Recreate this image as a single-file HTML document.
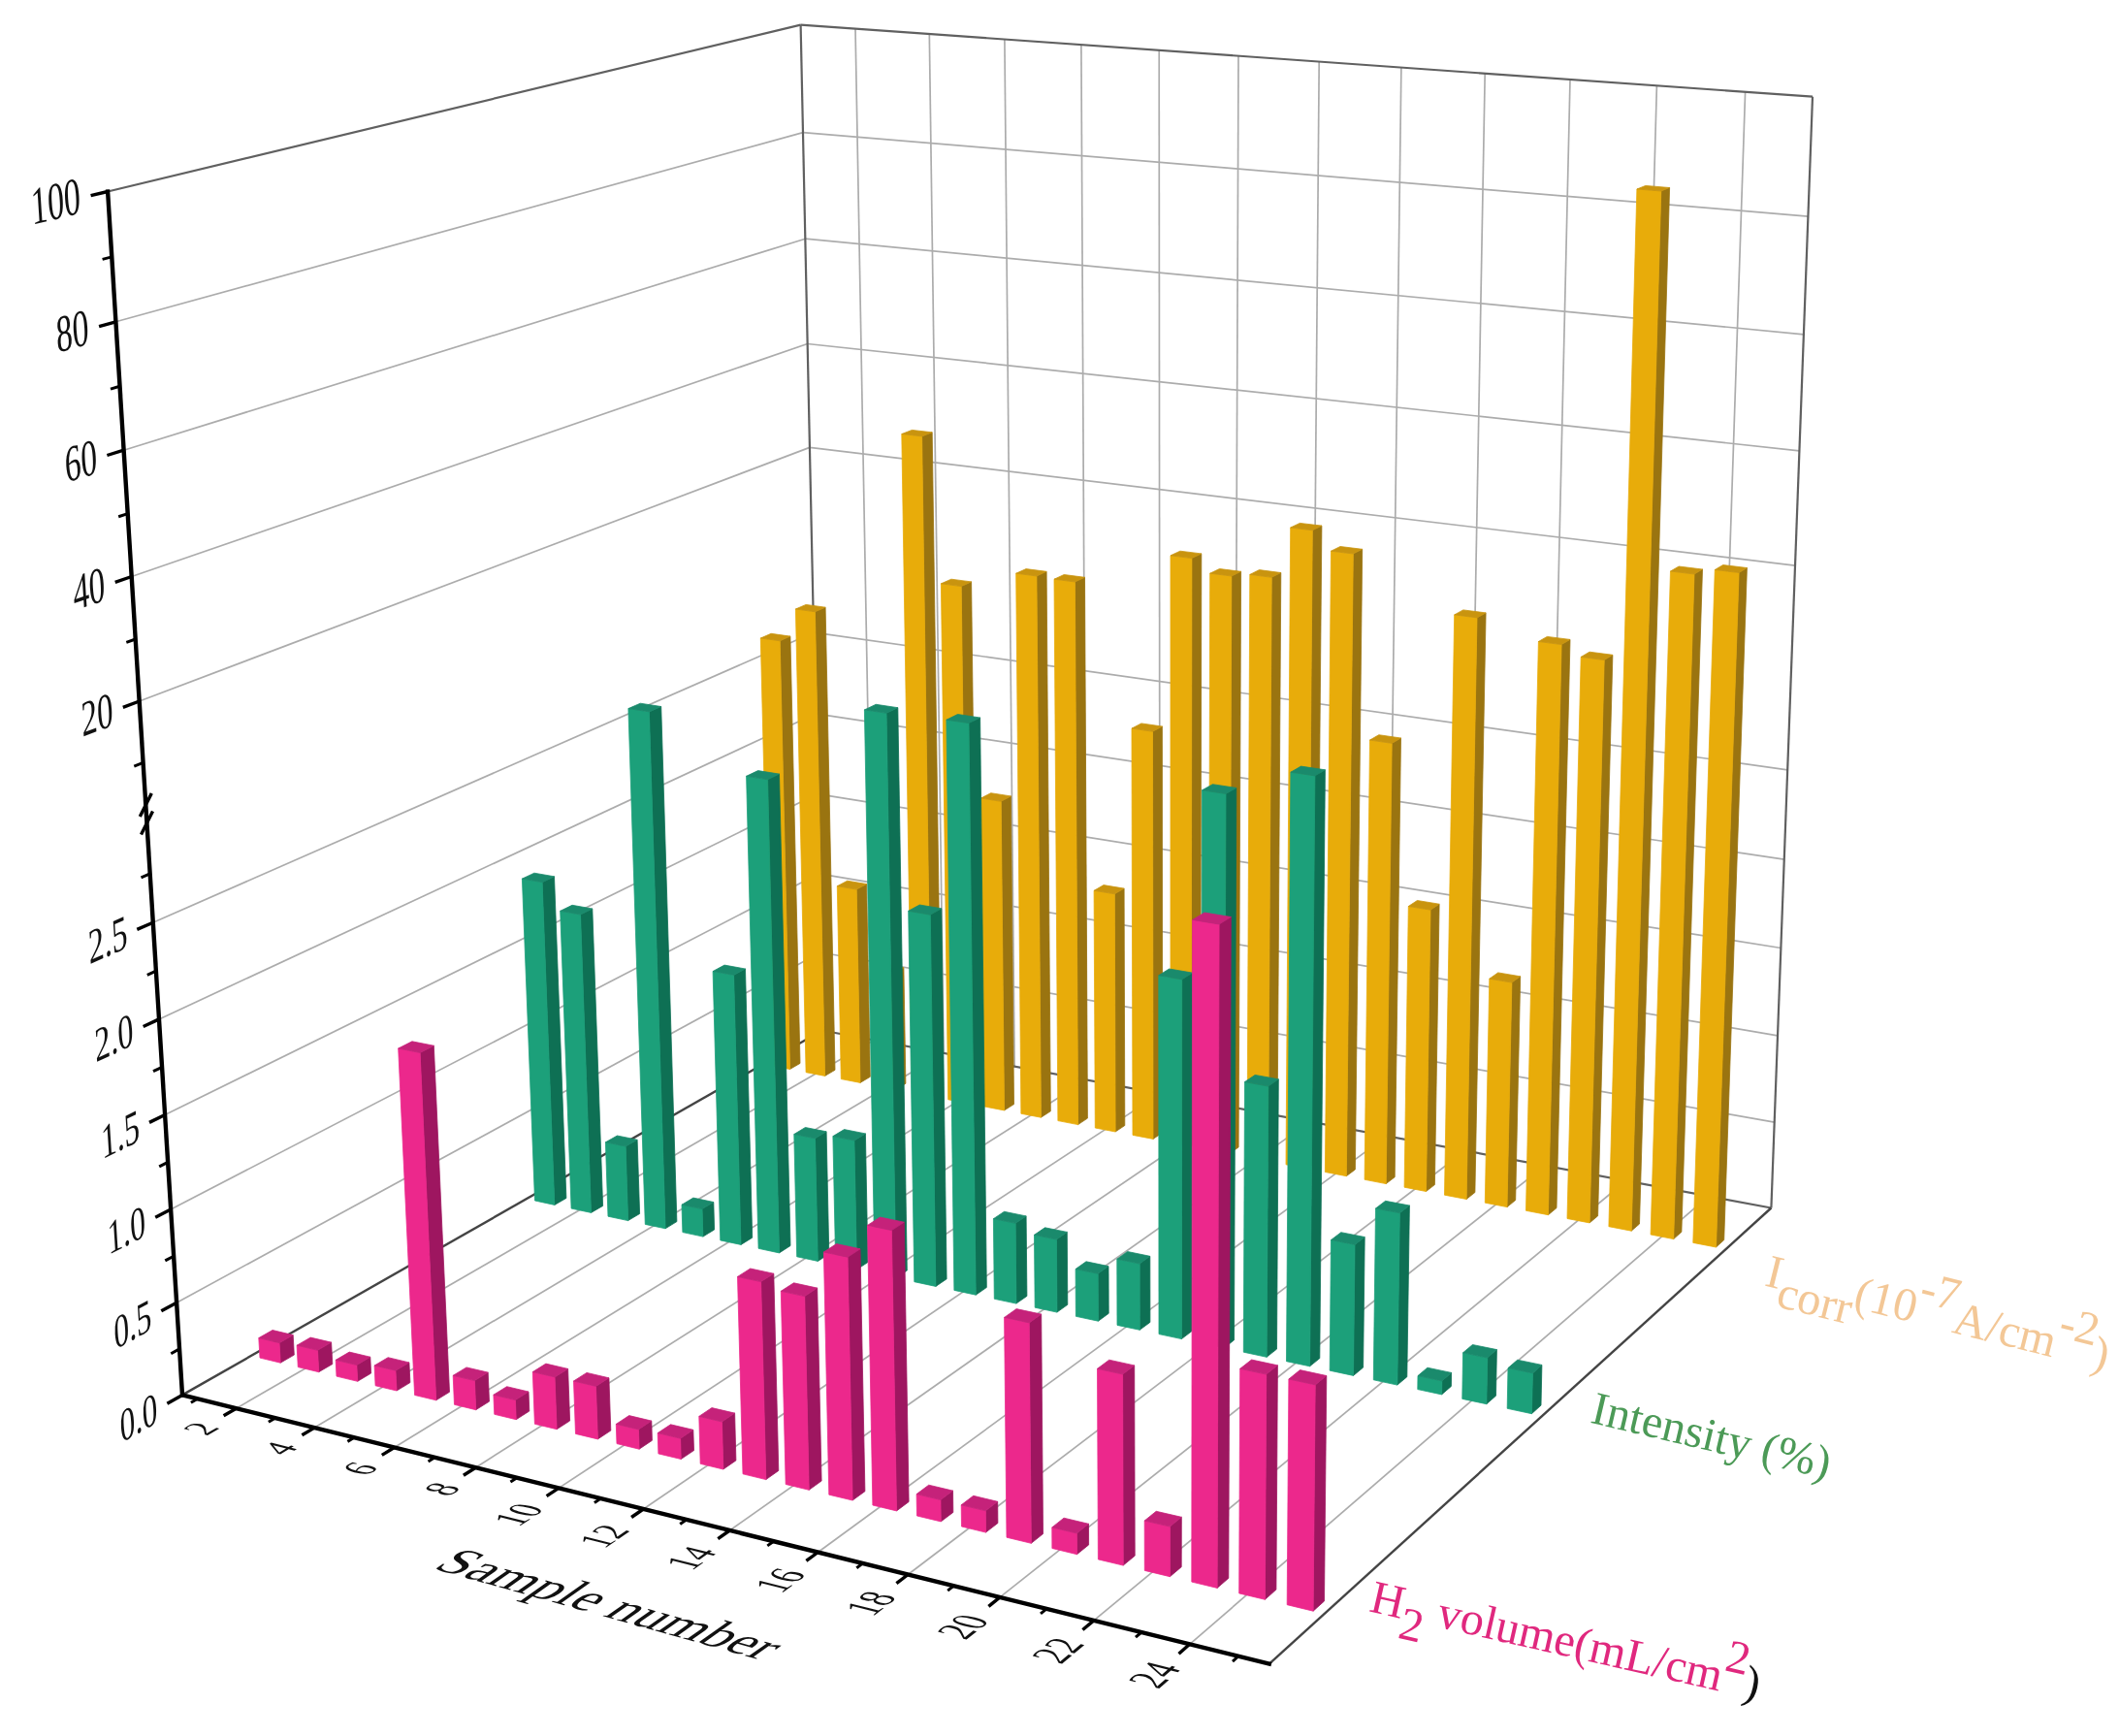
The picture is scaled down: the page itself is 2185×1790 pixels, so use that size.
<!DOCTYPE html>
<html><head><meta charset="utf-8"><title>3D bar chart</title>
<style>html,body{margin:0;padding:0;background:#fff}svg{display:block;filter:blur(0.6px)}</style></head>
<body><svg width="2185" height="1790" viewBox="0 0 2185 1790">
<rect width="2185" height="1790" fill="#fff"/>
<g><line x1="182.1" y1="1343.2" x2="846.0" y2="982.0" stroke="#acacac" stroke-width="1.7" />
<line x1="846.0" y1="982.0" x2="1829.7" y2="1157.1" stroke="#acacac" stroke-width="1.7" />
<line x1="176.1" y1="1246.9" x2="844.3" y2="900.8" stroke="#acacac" stroke-width="1.7" />
<line x1="844.3" y1="900.8" x2="1833.0" y2="1067.8" stroke="#acacac" stroke-width="1.7" />
<line x1="170.1" y1="1149.5" x2="842.5" y2="818.7" stroke="#acacac" stroke-width="1.7" />
<line x1="842.5" y1="818.7" x2="1836.4" y2="977.5" stroke="#acacac" stroke-width="1.7" />
<line x1="164.0" y1="1050.9" x2="840.8" y2="735.9" stroke="#acacac" stroke-width="1.7" />
<line x1="840.8" y1="735.9" x2="1839.8" y2="886.2" stroke="#acacac" stroke-width="1.7" />
<line x1="157.8" y1="951.2" x2="839.0" y2="652.2" stroke="#acacac" stroke-width="1.7" />
<line x1="839.0" y1="652.2" x2="1843.2" y2="793.9" stroke="#acacac" stroke-width="1.7" />
<line x1="143.7" y1="723.0" x2="834.9" y2="461.4" stroke="#acacac" stroke-width="1.7" />
<line x1="834.9" y1="461.4" x2="1851.0" y2="583.2" stroke="#acacac" stroke-width="1.7" />
<line x1="135.7" y1="594.5" x2="832.6" y2="354.5" stroke="#acacac" stroke-width="1.7" />
<line x1="832.6" y1="354.5" x2="1855.4" y2="464.8" stroke="#acacac" stroke-width="1.7" />
<line x1="127.6" y1="464.2" x2="830.3" y2="246.2" stroke="#acacac" stroke-width="1.7" />
<line x1="830.3" y1="246.2" x2="1859.9" y2="344.8" stroke="#acacac" stroke-width="1.7" />
<line x1="119.4" y1="331.8" x2="828.0" y2="136.6" stroke="#acacac" stroke-width="1.7" />
<line x1="828.0" y1="136.6" x2="1864.4" y2="223.1" stroke="#acacac" stroke-width="1.7" />
<line x1="901.0" y1="1072.5" x2="882.0" y2="29.6" stroke="#acacac" stroke-width="1.7" />
<line x1="243.6" y1="1452.2" x2="901.0" y2="1072.5" stroke="#acacac" stroke-width="1.7" />
<line x1="973.0" y1="1085.9" x2="958.3" y2="35.0" stroke="#acacac" stroke-width="1.7" />
<line x1="324.3" y1="1472.1" x2="973.0" y2="1085.9" stroke="#acacac" stroke-width="1.7" />
<line x1="1046.1" y1="1099.6" x2="1035.9" y2="40.5" stroke="#acacac" stroke-width="1.7" />
<line x1="406.6" y1="1492.5" x2="1046.1" y2="1099.6" stroke="#acacac" stroke-width="1.7" />
<line x1="1120.4" y1="1113.5" x2="1114.9" y2="46.1" stroke="#acacac" stroke-width="1.7" />
<line x1="490.5" y1="1513.2" x2="1120.4" y2="1113.5" stroke="#acacac" stroke-width="1.7" />
<line x1="1196.0" y1="1127.6" x2="1195.2" y2="51.9" stroke="#acacac" stroke-width="1.7" />
<line x1="576.1" y1="1534.4" x2="1196.0" y2="1127.6" stroke="#acacac" stroke-width="1.7" />
<line x1="1272.8" y1="1142.0" x2="1277.0" y2="57.7" stroke="#acacac" stroke-width="1.7" />
<line x1="663.4" y1="1556.0" x2="1272.8" y2="1142.0" stroke="#acacac" stroke-width="1.7" />
<line x1="1350.9" y1="1156.6" x2="1360.2" y2="63.6" stroke="#acacac" stroke-width="1.7" />
<line x1="752.5" y1="1578.0" x2="1350.9" y2="1156.6" stroke="#acacac" stroke-width="1.7" />
<line x1="1430.3" y1="1171.4" x2="1444.9" y2="69.6" stroke="#acacac" stroke-width="1.7" />
<line x1="843.5" y1="1600.5" x2="1430.3" y2="1171.4" stroke="#acacac" stroke-width="1.7" />
<line x1="1511.0" y1="1186.5" x2="1531.2" y2="75.7" stroke="#acacac" stroke-width="1.7" />
<line x1="936.3" y1="1623.5" x2="1511.0" y2="1186.5" stroke="#acacac" stroke-width="1.7" />
<line x1="1593.1" y1="1201.9" x2="1619.0" y2="82.0" stroke="#acacac" stroke-width="1.7" />
<line x1="1031.1" y1="1646.9" x2="1593.1" y2="1201.9" stroke="#acacac" stroke-width="1.7" />
<line x1="1676.7" y1="1217.5" x2="1708.4" y2="88.3" stroke="#acacac" stroke-width="1.7" />
<line x1="1127.9" y1="1670.9" x2="1676.7" y2="1217.5" stroke="#acacac" stroke-width="1.7" />
<line x1="1761.7" y1="1233.4" x2="1799.6" y2="94.8" stroke="#acacac" stroke-width="1.7" />
<line x1="1226.8" y1="1695.3" x2="1761.7" y2="1233.4" stroke="#acacac" stroke-width="1.7" />
<line x1="111.1" y1="197.5" x2="825.6" y2="25.6" stroke="#606060" stroke-width="2.2" />
<line x1="825.6" y1="25.6" x2="1869.0" y2="99.7" stroke="#606060" stroke-width="2.2" />
<line x1="847.8" y1="1062.5" x2="825.6" y2="25.6" stroke="#606060" stroke-width="2.2" />
<line x1="1826.4" y1="1245.5" x2="1869.0" y2="99.7" stroke="#606060" stroke-width="2.2" />
<line x1="847.8" y1="1062.5" x2="1826.4" y2="1245.5" stroke="#606060" stroke-width="2.2" />
<line x1="188.0" y1="1438.4" x2="847.8" y2="1062.5" stroke="#444" stroke-width="2.4" />
<line x1="1308.8" y1="1715.6" x2="1826.4" y2="1245.5" stroke="#444" stroke-width="2.4" />
<polygon points="814.5,1102.5 825.0,1096.4 814.9,656.1 804.2,660.8" fill="#9A7410" stroke="#9A7410" stroke-width="0.8" stroke-linejoin="round"/><polygon points="795.2,1098.8 814.5,1102.5 804.2,660.8 784.3,658.0" fill="#E8AC0A" stroke="#E8AC0A" stroke-width="0.8" stroke-linejoin="round"/><polygon points="784.3,658.0 804.2,660.8 814.9,656.1 795.1,653.3" fill="#C9940F" stroke="#C9940F" stroke-width="0.8" stroke-linejoin="round"/>
<polygon points="850.6,1109.4 861.0,1103.3 851.1,626.2 840.4,630.8" fill="#9A7410" stroke="#9A7410" stroke-width="0.8" stroke-linejoin="round"/><polygon points="831.1,1105.7 850.6,1109.4 840.4,630.8 820.4,628.0" fill="#E8AC0A" stroke="#E8AC0A" stroke-width="0.8" stroke-linejoin="round"/><polygon points="820.4,628.0 840.4,630.8 851.1,626.2 831.1,623.4" fill="#C9940F" stroke="#C9940F" stroke-width="0.8" stroke-linejoin="round"/>
<polygon points="887.0,1116.4 897.3,1110.3 893.6,911.6 883.2,917.1" fill="#9A7410" stroke="#9A7410" stroke-width="0.8" stroke-linejoin="round"/><polygon points="867.3,1112.6 887.0,1116.4 883.2,917.1 863.3,913.7" fill="#E8AC0A" stroke="#E8AC0A" stroke-width="0.8" stroke-linejoin="round"/><polygon points="863.3,913.7 883.2,917.1 893.6,911.6 873.7,908.2" fill="#C9940F" stroke="#C9940F" stroke-width="0.8" stroke-linejoin="round"/>
<polygon points="923.6,1123.4 933.9,1117.3 931.9,997.8 921.6,1003.6" fill="#9A7410" stroke="#9A7410" stroke-width="0.8" stroke-linejoin="round"/><polygon points="903.8,1119.6 923.6,1123.4 921.6,1003.6 901.6,1000.0" fill="#E8AC0A" stroke="#E8AC0A" stroke-width="0.8" stroke-linejoin="round"/><polygon points="901.6,1000.0 921.6,1003.6 931.9,997.8 912.0,994.2" fill="#C9940F" stroke="#C9940F" stroke-width="0.8" stroke-linejoin="round"/>
<polygon points="960.6,1130.5 970.8,1124.3 961.2,445.8 950.6,449.9" fill="#9A7410" stroke="#9A7410" stroke-width="0.8" stroke-linejoin="round"/><polygon points="940.6,1126.7 960.6,1130.5 950.6,449.9 929.8,447.5" fill="#E8AC0A" stroke="#E8AC0A" stroke-width="0.8" stroke-linejoin="round"/><polygon points="929.8,447.5 950.6,449.9 961.2,445.8 940.4,443.4" fill="#C9940F" stroke="#C9940F" stroke-width="0.8" stroke-linejoin="round"/>
<polygon points="997.9,1137.7 1008.0,1131.4 1001.6,599.9 991.2,604.6" fill="#9A7410" stroke="#9A7410" stroke-width="0.8" stroke-linejoin="round"/><polygon points="977.7,1133.8 997.9,1137.7 991.2,604.6 970.4,601.8" fill="#E8AC0A" stroke="#E8AC0A" stroke-width="0.8" stroke-linejoin="round"/><polygon points="970.4,601.8 991.2,604.6 1001.6,599.9 980.9,597.2" fill="#C9940F" stroke="#C9940F" stroke-width="0.8" stroke-linejoin="round"/>
<polygon points="1035.5,1144.9 1045.5,1138.6 1042.4,820.9 1032.2,826.3" fill="#9A7410" stroke="#9A7410" stroke-width="0.8" stroke-linejoin="round"/><polygon points="1015.1,1141.0 1035.5,1144.9 1032.2,826.3 1011.5,823.0" fill="#E8AC0A" stroke="#E8AC0A" stroke-width="0.8" stroke-linejoin="round"/><polygon points="1011.5,823.0 1032.2,826.3 1042.4,820.9 1021.7,817.7" fill="#C9940F" stroke="#C9940F" stroke-width="0.8" stroke-linejoin="round"/>
<polygon points="1073.4,1152.2 1083.3,1145.8 1079.1,589.3 1068.9,594.0" fill="#9A7410" stroke="#9A7410" stroke-width="0.8" stroke-linejoin="round"/><polygon points="1052.9,1148.3 1073.4,1152.2 1068.9,594.0 1047.7,591.2" fill="#E8AC0A" stroke="#E8AC0A" stroke-width="0.8" stroke-linejoin="round"/><polygon points="1047.7,591.2 1068.9,594.0 1079.1,589.3 1058.0,586.6" fill="#C9940F" stroke="#C9940F" stroke-width="0.8" stroke-linejoin="round"/>
<polygon points="1111.6,1159.6 1121.4,1153.1 1118.5,595.3 1108.4,600.0" fill="#9A7410" stroke="#9A7410" stroke-width="0.8" stroke-linejoin="round"/><polygon points="1090.9,1155.6 1111.6,1159.6 1108.4,600.0 1087.0,597.2" fill="#E8AC0A" stroke="#E8AC0A" stroke-width="0.8" stroke-linejoin="round"/><polygon points="1087.0,597.2 1108.4,600.0 1118.5,595.3 1097.2,592.5" fill="#C9940F" stroke="#C9940F" stroke-width="0.8" stroke-linejoin="round"/>
<polygon points="1150.1,1167.0 1159.8,1160.5 1159.1,916.1 1149.3,921.8" fill="#9A7410" stroke="#9A7410" stroke-width="0.8" stroke-linejoin="round"/><polygon points="1129.3,1163.0 1150.1,1167.0 1149.3,921.8 1128.1,918.3" fill="#E8AC0A" stroke="#E8AC0A" stroke-width="0.8" stroke-linejoin="round"/><polygon points="1128.1,918.3 1149.3,921.8 1159.1,916.1 1138.0,912.6" fill="#C9940F" stroke="#C9940F" stroke-width="0.8" stroke-linejoin="round"/>
<polygon points="1189.0,1174.4 1198.6,1167.9 1198.4,749.0 1188.5,754.3" fill="#9A7410" stroke="#9A7410" stroke-width="0.8" stroke-linejoin="round"/><polygon points="1168.0,1170.4 1189.0,1174.4 1188.5,754.3 1167.0,751.1" fill="#E8AC0A" stroke="#E8AC0A" stroke-width="0.8" stroke-linejoin="round"/><polygon points="1167.0,751.1 1188.5,754.3 1198.4,749.0 1176.9,745.9" fill="#C9940F" stroke="#C9940F" stroke-width="0.8" stroke-linejoin="round"/>
<polygon points="1228.2,1182.0 1237.7,1175.4 1238.8,570.9 1228.9,575.6" fill="#9A7410" stroke="#9A7410" stroke-width="0.8" stroke-linejoin="round"/><polygon points="1207.0,1177.9 1228.2,1182.0 1228.9,575.6 1207.0,572.8" fill="#E8AC0A" stroke="#E8AC0A" stroke-width="0.8" stroke-linejoin="round"/><polygon points="1207.0,572.8 1228.9,575.6 1238.8,570.9 1216.9,568.2" fill="#C9940F" stroke="#C9940F" stroke-width="0.8" stroke-linejoin="round"/>
<polygon points="1267.7,1189.6 1277.1,1182.9 1279.6,589.3 1269.8,594.0" fill="#9A7410" stroke="#9A7410" stroke-width="0.8" stroke-linejoin="round"/><polygon points="1246.3,1185.4 1267.7,1189.6 1269.8,594.0 1247.7,591.2" fill="#E8AC0A" stroke="#E8AC0A" stroke-width="0.8" stroke-linejoin="round"/><polygon points="1247.7,591.2 1269.8,594.0 1279.6,589.3 1257.5,586.5" fill="#C9940F" stroke="#C9940F" stroke-width="0.8" stroke-linejoin="round"/>
<polygon points="1307.6,1197.2 1316.9,1190.5 1320.8,590.5 1311.2,595.3" fill="#9A7410" stroke="#9A7410" stroke-width="0.8" stroke-linejoin="round"/><polygon points="1286.0,1193.1 1307.6,1197.2 1311.2,595.3 1288.8,592.4" fill="#E8AC0A" stroke="#E8AC0A" stroke-width="0.8" stroke-linejoin="round"/><polygon points="1288.8,592.4 1311.2,595.3 1320.8,590.5 1298.5,587.6" fill="#C9940F" stroke="#C9940F" stroke-width="0.8" stroke-linejoin="round"/>
<polygon points="1347.8,1204.9 1357.0,1198.2 1362.9,542.1 1353.3,546.8" fill="#9A7410" stroke="#9A7410" stroke-width="0.8" stroke-linejoin="round"/><polygon points="1326.0,1200.8 1347.8,1204.9 1353.3,546.8 1330.7,544.0" fill="#E8AC0A" stroke="#E8AC0A" stroke-width="0.8" stroke-linejoin="round"/><polygon points="1330.7,544.0 1353.3,546.8 1362.9,542.1 1340.3,539.4" fill="#C9940F" stroke="#C9940F" stroke-width="0.8" stroke-linejoin="round"/>
<polygon points="1388.3,1212.7 1397.4,1205.9 1404.7,566.3 1395.3,571.0" fill="#9A7410" stroke="#9A7410" stroke-width="0.8" stroke-linejoin="round"/><polygon points="1366.4,1208.5 1388.3,1212.7 1395.3,571.0 1372.5,568.2" fill="#E8AC0A" stroke="#E8AC0A" stroke-width="0.8" stroke-linejoin="round"/><polygon points="1372.5,568.2 1395.3,571.0 1404.7,566.3 1382.0,563.5" fill="#C9940F" stroke="#C9940F" stroke-width="0.8" stroke-linejoin="round"/>
<polygon points="1429.2,1220.6 1438.2,1213.7 1444.5,761.0 1435.2,766.4" fill="#9A7410" stroke="#9A7410" stroke-width="0.8" stroke-linejoin="round"/><polygon points="1407.1,1216.3 1429.2,1220.6 1435.2,766.4 1412.5,763.1" fill="#E8AC0A" stroke="#E8AC0A" stroke-width="0.8" stroke-linejoin="round"/><polygon points="1412.5,763.1 1435.2,766.4 1444.5,761.0 1421.8,757.7" fill="#C9940F" stroke="#C9940F" stroke-width="0.8" stroke-linejoin="round"/>
<polygon points="1470.5,1228.5 1479.4,1221.6 1484.1,932.2 1475.0,938.2" fill="#9A7410" stroke="#9A7410" stroke-width="0.8" stroke-linejoin="round"/><polygon points="1448.1,1224.2 1470.5,1228.5 1475.0,938.2 1452.3,934.5" fill="#E8AC0A" stroke="#E8AC0A" stroke-width="0.8" stroke-linejoin="round"/><polygon points="1452.3,934.5 1475.0,938.2 1484.1,932.2 1461.4,928.5" fill="#C9940F" stroke="#C9940F" stroke-width="0.8" stroke-linejoin="round"/>
<polygon points="1512.1,1236.5 1520.9,1229.5 1532.1,631.9 1523.0,636.9" fill="#9A7410" stroke="#9A7410" stroke-width="0.8" stroke-linejoin="round"/><polygon points="1489.5,1232.2 1512.1,1236.5 1523.0,636.9 1499.7,633.9" fill="#E8AC0A" stroke="#E8AC0A" stroke-width="0.8" stroke-linejoin="round"/><polygon points="1499.7,633.9 1523.0,636.9 1532.1,631.9 1508.8,628.9" fill="#C9940F" stroke="#C9940F" stroke-width="0.8" stroke-linejoin="round"/>
<polygon points="1554.0,1244.6 1562.7,1237.5 1567.7,1006.8 1558.9,1013.1" fill="#9A7410" stroke="#9A7410" stroke-width="0.8" stroke-linejoin="round"/><polygon points="1531.3,1240.2 1554.0,1244.6 1558.9,1013.1 1535.8,1009.2" fill="#E8AC0A" stroke="#E8AC0A" stroke-width="0.8" stroke-linejoin="round"/><polygon points="1535.8,1009.2 1558.9,1013.1 1567.7,1006.8 1544.7,1002.9" fill="#C9940F" stroke="#C9940F" stroke-width="0.8" stroke-linejoin="round"/>
<polygon points="1596.4,1252.7 1605.0,1245.6 1619.0,659.4 1610.1,664.6" fill="#9A7410" stroke="#9A7410" stroke-width="0.8" stroke-linejoin="round"/><polygon points="1573.5,1248.3 1596.4,1252.7 1610.1,664.6 1586.4,661.5" fill="#E8AC0A" stroke="#E8AC0A" stroke-width="0.8" stroke-linejoin="round"/><polygon points="1586.4,661.5 1610.1,664.6 1619.0,659.4 1595.3,656.4" fill="#C9940F" stroke="#C9940F" stroke-width="0.8" stroke-linejoin="round"/>
<polygon points="1639.1,1260.9 1647.6,1253.8 1662.9,675.3 1654.2,680.6" fill="#9A7410" stroke="#9A7410" stroke-width="0.8" stroke-linejoin="round"/><polygon points="1616.0,1256.5 1639.1,1260.9 1654.2,680.6 1630.2,677.4" fill="#E8AC0A" stroke="#E8AC0A" stroke-width="0.8" stroke-linejoin="round"/><polygon points="1630.2,677.4 1654.2,680.6 1662.9,675.3 1639.0,672.2" fill="#C9940F" stroke="#C9940F" stroke-width="0.8" stroke-linejoin="round"/>
<polygon points="1682.2,1269.2 1690.5,1262.0 1721.6,193.5 1712.8,197.0" fill="#9A7410" stroke="#9A7410" stroke-width="0.8" stroke-linejoin="round"/><polygon points="1658.9,1264.7 1682.2,1269.2 1712.8,197.0 1687.9,195.0" fill="#E8AC0A" stroke="#E8AC0A" stroke-width="0.8" stroke-linejoin="round"/><polygon points="1687.9,195.0 1712.8,197.0 1721.6,193.5 1696.8,191.4" fill="#C9940F" stroke="#C9940F" stroke-width="0.8" stroke-linejoin="round"/>
<polygon points="1725.7,1277.6 1733.9,1270.3 1755.5,587.0 1747.0,592.0" fill="#9A7410" stroke="#9A7410" stroke-width="0.8" stroke-linejoin="round"/><polygon points="1702.1,1273.0 1725.7,1277.6 1747.0,592.0 1722.5,589.0" fill="#E8AC0A" stroke="#E8AC0A" stroke-width="0.8" stroke-linejoin="round"/><polygon points="1722.5,589.0 1747.0,592.0 1755.5,587.0 1731.1,584.0" fill="#C9940F" stroke="#C9940F" stroke-width="0.8" stroke-linejoin="round"/>
<polygon points="1769.5,1286.0 1777.7,1278.6 1801.4,585.5 1793.1,590.5" fill="#9A7410" stroke="#9A7410" stroke-width="0.8" stroke-linejoin="round"/><polygon points="1745.8,1281.4 1769.5,1286.0 1793.1,590.5 1768.3,587.5" fill="#E8AC0A" stroke="#E8AC0A" stroke-width="0.8" stroke-linejoin="round"/><polygon points="1768.3,587.5 1793.1,590.5 1801.4,585.5 1776.7,582.5" fill="#C9940F" stroke="#C9940F" stroke-width="0.8" stroke-linejoin="round"/>
<polygon points="571.8,1242.4 583.9,1235.4 571.5,903.8 559.1,909.7" fill="#0E7054" stroke="#0E7054" stroke-width="0.8" stroke-linejoin="round"/><polygon points="551.5,1238.0 571.8,1242.4 559.1,909.7 538.4,906.1" fill="#1CA07A" stroke="#1CA07A" stroke-width="0.8" stroke-linejoin="round"/><polygon points="538.4,906.1 559.1,909.7 571.5,903.8 550.9,900.2" fill="#1A8A6C" stroke="#1A8A6C" stroke-width="0.8" stroke-linejoin="round"/>
<polygon points="609.5,1250.4 621.6,1243.4 610.8,937.0 598.5,943.0" fill="#0E7054" stroke="#0E7054" stroke-width="0.8" stroke-linejoin="round"/><polygon points="589.1,1246.1 609.5,1250.4 598.5,943.0 577.7,939.3" fill="#1CA07A" stroke="#1CA07A" stroke-width="0.8" stroke-linejoin="round"/><polygon points="577.7,939.3 598.5,943.0 610.8,937.0 590.0,933.3" fill="#1A8A6C" stroke="#1A8A6C" stroke-width="0.8" stroke-linejoin="round"/>
<polygon points="647.6,1258.6 659.6,1251.5 657.1,1175.2 645.1,1182.0" fill="#0E7054" stroke="#0E7054" stroke-width="0.8" stroke-linejoin="round"/><polygon points="627.0,1254.2 647.6,1258.6 645.1,1182.0 624.4,1177.8" fill="#1CA07A" stroke="#1CA07A" stroke-width="0.8" stroke-linejoin="round"/><polygon points="624.4,1177.8 645.1,1182.0 657.1,1175.2 636.4,1171.0" fill="#1A8A6C" stroke="#1A8A6C" stroke-width="0.8" stroke-linejoin="round"/>
<polygon points="686.1,1266.8 697.9,1259.6 681.7,728.5 669.4,733.9" fill="#0E7054" stroke="#0E7054" stroke-width="0.8" stroke-linejoin="round"/><polygon points="665.3,1262.4 686.1,1266.8 669.4,733.9 647.9,730.6" fill="#1CA07A" stroke="#1CA07A" stroke-width="0.8" stroke-linejoin="round"/><polygon points="647.9,730.6 669.4,733.9 681.7,728.5 660.3,725.2" fill="#1A8A6C" stroke="#1A8A6C" stroke-width="0.8" stroke-linejoin="round"/>
<polygon points="724.9,1275.1 736.6,1267.9 735.8,1239.5 724.0,1246.6" fill="#0E7054" stroke="#0E7054" stroke-width="0.8" stroke-linejoin="round"/><polygon points="703.9,1270.6 724.9,1275.1 724.0,1246.6 703.0,1242.2" fill="#1CA07A" stroke="#1CA07A" stroke-width="0.8" stroke-linejoin="round"/><polygon points="703.0,1242.2 724.0,1246.6 735.8,1239.5 714.9,1235.1" fill="#1A8A6C" stroke="#1A8A6C" stroke-width="0.8" stroke-linejoin="round"/>
<polygon points="764.0,1283.4 775.7,1276.2 768.5,999.0 756.6,1005.4" fill="#0E7054" stroke="#0E7054" stroke-width="0.8" stroke-linejoin="round"/><polygon points="742.8,1278.9 764.0,1283.4 756.6,1005.4 735.1,1001.5" fill="#1CA07A" stroke="#1CA07A" stroke-width="0.8" stroke-linejoin="round"/><polygon points="735.1,1001.5 756.6,1005.4 768.5,999.0 747.0,995.1" fill="#1A8A6C" stroke="#1A8A6C" stroke-width="0.8" stroke-linejoin="round"/>
<polygon points="803.5,1291.9 815.0,1284.5 803.5,798.1 791.6,803.8" fill="#0E7054" stroke="#0E7054" stroke-width="0.8" stroke-linejoin="round"/><polygon points="782.1,1287.3 803.5,1291.9 791.6,803.8 769.6,800.3" fill="#1CA07A" stroke="#1CA07A" stroke-width="0.8" stroke-linejoin="round"/><polygon points="769.6,800.3 791.6,803.8 803.5,798.1 781.6,794.6" fill="#1A8A6C" stroke="#1A8A6C" stroke-width="0.8" stroke-linejoin="round"/>
<polygon points="843.3,1300.4 854.8,1293.0 852.1,1166.8 840.5,1173.8" fill="#0E7054" stroke="#0E7054" stroke-width="0.8" stroke-linejoin="round"/><polygon points="821.7,1295.8 843.3,1300.4 840.5,1173.8 818.8,1169.5" fill="#1CA07A" stroke="#1CA07A" stroke-width="0.8" stroke-linejoin="round"/><polygon points="818.8,1169.5 840.5,1173.8 852.1,1166.8 830.4,1162.5" fill="#1A8A6C" stroke="#1A8A6C" stroke-width="0.8" stroke-linejoin="round"/>
<polygon points="883.5,1309.0 894.9,1301.5 892.4,1168.9 880.9,1176.0" fill="#0E7054" stroke="#0E7054" stroke-width="0.8" stroke-linejoin="round"/><polygon points="861.7,1304.3 883.5,1309.0 880.9,1176.0 858.9,1171.6" fill="#1CA07A" stroke="#1CA07A" stroke-width="0.8" stroke-linejoin="round"/><polygon points="858.9,1171.6 880.9,1176.0 892.4,1168.9 870.5,1164.6" fill="#1A8A6C" stroke="#1A8A6C" stroke-width="0.8" stroke-linejoin="round"/>
<polygon points="924.0,1317.6 935.3,1310.1 925.8,729.7 914.0,735.3" fill="#0E7054" stroke="#0E7054" stroke-width="0.8" stroke-linejoin="round"/><polygon points="902.1,1313.0 924.0,1317.6 914.0,735.3 891.4,731.9" fill="#1CA07A" stroke="#1CA07A" stroke-width="0.8" stroke-linejoin="round"/><polygon points="891.4,731.9 914.0,735.3 925.8,729.7 903.2,726.3" fill="#1A8A6C" stroke="#1A8A6C" stroke-width="0.8" stroke-linejoin="round"/>
<polygon points="964.9,1326.4 976.1,1318.8 970.8,936.8 959.3,943.2" fill="#0E7054" stroke="#0E7054" stroke-width="0.8" stroke-linejoin="round"/><polygon points="942.8,1321.7 964.9,1326.4 959.3,943.2 936.7,939.3" fill="#1CA07A" stroke="#1CA07A" stroke-width="0.8" stroke-linejoin="round"/><polygon points="936.7,939.3 959.3,943.2 970.8,936.8 948.2,933.0" fill="#1A8A6C" stroke="#1A8A6C" stroke-width="0.8" stroke-linejoin="round"/>
<polygon points="1006.2,1335.2 1017.3,1327.5 1010.6,740.0 999.0,745.6" fill="#0E7054" stroke="#0E7054" stroke-width="0.8" stroke-linejoin="round"/><polygon points="983.9,1330.4 1006.2,1335.2 999.0,745.6 975.9,742.2" fill="#1CA07A" stroke="#1CA07A" stroke-width="0.8" stroke-linejoin="round"/><polygon points="975.9,742.2 999.0,745.6 1010.6,740.0 987.5,736.5" fill="#1A8A6C" stroke="#1A8A6C" stroke-width="0.8" stroke-linejoin="round"/>
<polygon points="1047.9,1344.1 1058.9,1336.4 1058.1,1253.9 1047.1,1261.3" fill="#0E7054" stroke="#0E7054" stroke-width="0.8" stroke-linejoin="round"/><polygon points="1025.3,1339.3 1047.9,1344.1 1047.1,1261.3 1024.4,1256.7" fill="#1CA07A" stroke="#1CA07A" stroke-width="0.8" stroke-linejoin="round"/><polygon points="1024.4,1256.7 1047.1,1261.3 1058.1,1253.9 1035.5,1249.3" fill="#1A8A6C" stroke="#1A8A6C" stroke-width="0.8" stroke-linejoin="round"/>
<polygon points="1089.9,1353.1 1100.8,1345.3 1100.3,1270.4 1089.4,1278.0" fill="#0E7054" stroke="#0E7054" stroke-width="0.8" stroke-linejoin="round"/><polygon points="1067.2,1348.2 1089.9,1353.1 1089.4,1278.0 1066.5,1273.3" fill="#1CA07A" stroke="#1CA07A" stroke-width="0.8" stroke-linejoin="round"/><polygon points="1066.5,1273.3 1089.4,1278.0 1100.3,1270.4 1077.5,1265.8" fill="#1A8A6C" stroke="#1A8A6C" stroke-width="0.8" stroke-linejoin="round"/>
<polygon points="1132.4,1362.2 1143.2,1354.3 1143.0,1305.6 1132.1,1313.3" fill="#0E7054" stroke="#0E7054" stroke-width="0.8" stroke-linejoin="round"/><polygon points="1109.4,1357.3 1132.4,1362.2 1132.1,1313.3 1109.1,1308.5" fill="#1CA07A" stroke="#1CA07A" stroke-width="0.8" stroke-linejoin="round"/><polygon points="1109.1,1308.5 1132.1,1313.3 1143.0,1305.6 1120.0,1300.8" fill="#1A8A6C" stroke="#1A8A6C" stroke-width="0.8" stroke-linejoin="round"/>
<polygon points="1175.2,1371.3 1185.9,1363.4 1185.8,1295.3 1175.1,1303.0" fill="#0E7054" stroke="#0E7054" stroke-width="0.8" stroke-linejoin="round"/><polygon points="1152.0,1366.4 1175.2,1371.3 1175.1,1303.0 1151.8,1298.2" fill="#1CA07A" stroke="#1CA07A" stroke-width="0.8" stroke-linejoin="round"/><polygon points="1151.8,1298.2 1175.1,1303.0 1185.8,1295.3 1162.6,1290.5" fill="#1A8A6C" stroke="#1A8A6C" stroke-width="0.8" stroke-linejoin="round"/>
<polygon points="1218.4,1380.6 1229.0,1372.5 1229.5,1003.1 1218.7,1009.9" fill="#0E7054" stroke="#0E7054" stroke-width="0.8" stroke-linejoin="round"/><polygon points="1195.0,1375.6 1218.4,1380.6 1218.7,1009.9 1194.8,1005.7" fill="#1CA07A" stroke="#1CA07A" stroke-width="0.8" stroke-linejoin="round"/><polygon points="1194.8,1005.7 1218.7,1009.9 1229.5,1003.1 1205.6,999.0" fill="#1A8A6C" stroke="#1A8A6C" stroke-width="0.8" stroke-linejoin="round"/>
<polygon points="1262.1,1389.9 1272.5,1381.8 1274.8,812.4 1264.0,818.5" fill="#0E7054" stroke="#0E7054" stroke-width="0.8" stroke-linejoin="round"/><polygon points="1238.5,1384.8 1262.1,1389.9 1264.0,818.5 1239.5,814.8" fill="#1CA07A" stroke="#1CA07A" stroke-width="0.8" stroke-linejoin="round"/><polygon points="1239.5,814.8 1264.0,818.5 1274.8,812.4 1250.4,808.7" fill="#1A8A6C" stroke="#1A8A6C" stroke-width="0.8" stroke-linejoin="round"/>
<polygon points="1306.1,1399.3 1316.5,1391.1 1318.3,1112.8 1307.8,1120.1" fill="#0E7054" stroke="#0E7054" stroke-width="0.8" stroke-linejoin="round"/><polygon points="1282.3,1394.2 1306.1,1399.3 1307.8,1120.1 1283.5,1115.6" fill="#1CA07A" stroke="#1CA07A" stroke-width="0.8" stroke-linejoin="round"/><polygon points="1283.5,1115.6 1307.8,1120.1 1318.3,1112.8 1294.1,1108.4" fill="#1A8A6C" stroke="#1A8A6C" stroke-width="0.8" stroke-linejoin="round"/>
<polygon points="1350.6,1408.8 1360.8,1400.6 1366.4,793.8 1355.9,799.9" fill="#0E7054" stroke="#0E7054" stroke-width="0.8" stroke-linejoin="round"/><polygon points="1326.5,1403.7 1350.6,1408.8 1355.9,799.9 1330.9,796.2" fill="#1CA07A" stroke="#1CA07A" stroke-width="0.8" stroke-linejoin="round"/><polygon points="1330.9,796.2 1355.9,799.9 1366.4,793.8 1341.5,790.1" fill="#1A8A6C" stroke="#1A8A6C" stroke-width="0.8" stroke-linejoin="round"/>
<polygon points="1395.5,1418.4 1405.6,1410.1 1407.2,1275.5 1397.0,1283.4" fill="#0E7054" stroke="#0E7054" stroke-width="0.8" stroke-linejoin="round"/><polygon points="1371.2,1413.2 1395.5,1418.4 1397.0,1283.4 1372.5,1278.5" fill="#1CA07A" stroke="#1CA07A" stroke-width="0.8" stroke-linejoin="round"/><polygon points="1372.5,1278.5 1397.0,1283.4 1407.2,1275.5 1382.8,1270.7" fill="#1A8A6C" stroke="#1A8A6C" stroke-width="0.8" stroke-linejoin="round"/>
<polygon points="1440.8,1428.1 1450.8,1419.7 1453.4,1243.0 1443.3,1250.8" fill="#0E7054" stroke="#0E7054" stroke-width="0.8" stroke-linejoin="round"/><polygon points="1416.3,1422.8 1440.8,1428.1 1443.3,1250.8 1418.5,1246.0" fill="#1CA07A" stroke="#1CA07A" stroke-width="0.8" stroke-linejoin="round"/><polygon points="1418.5,1246.0 1443.3,1250.8 1453.4,1243.0 1428.6,1238.3" fill="#1A8A6C" stroke="#1A8A6C" stroke-width="0.8" stroke-linejoin="round"/>
<polygon points="1486.6,1437.9 1496.4,1429.4 1496.6,1415.4 1486.8,1423.9" fill="#0E7054" stroke="#0E7054" stroke-width="0.8" stroke-linejoin="round"/><polygon points="1461.8,1432.6 1486.6,1437.9 1486.8,1423.9 1462.0,1418.6" fill="#1CA07A" stroke="#1CA07A" stroke-width="0.8" stroke-linejoin="round"/><polygon points="1462.0,1418.6 1486.8,1423.9 1496.6,1415.4 1471.9,1410.2" fill="#1A8A6C" stroke="#1A8A6C" stroke-width="0.8" stroke-linejoin="round"/>
<polygon points="1532.8,1447.7 1542.5,1439.2 1543.4,1391.6 1533.7,1400.0" fill="#0E7054" stroke="#0E7054" stroke-width="0.8" stroke-linejoin="round"/><polygon points="1507.8,1442.4 1532.8,1447.7 1533.7,1400.0 1508.6,1394.8" fill="#1CA07A" stroke="#1CA07A" stroke-width="0.8" stroke-linejoin="round"/><polygon points="1508.6,1394.8 1533.7,1400.0 1543.4,1391.6 1518.4,1386.5" fill="#1A8A6C" stroke="#1A8A6C" stroke-width="0.8" stroke-linejoin="round"/>
<polygon points="1579.4,1457.7 1589.0,1449.1 1589.9,1407.4 1580.4,1415.9" fill="#0E7054" stroke="#0E7054" stroke-width="0.8" stroke-linejoin="round"/><polygon points="1554.2,1452.3 1579.4,1457.7 1580.4,1415.9 1555.0,1410.6" fill="#1CA07A" stroke="#1CA07A" stroke-width="0.8" stroke-linejoin="round"/><polygon points="1555.0,1410.6 1580.4,1415.9 1589.9,1407.4 1564.7,1402.2" fill="#1A8A6C" stroke="#1A8A6C" stroke-width="0.8" stroke-linejoin="round"/>
<polygon points="289.2,1405.2 303.3,1397.1 302.2,1376.6 288.0,1384.7" fill="#9E1660" stroke="#9E1660" stroke-width="0.8" stroke-linejoin="round"/><polygon points="268.0,1400.1 289.2,1405.2 288.0,1384.7 266.8,1379.6" fill="#EC288C" stroke="#EC288C" stroke-width="0.8" stroke-linejoin="round"/><polygon points="266.8,1379.6 288.0,1384.7 302.2,1376.6 281.0,1371.5" fill="#C5227A" stroke="#C5227A" stroke-width="0.8" stroke-linejoin="round"/>
<polygon points="328.7,1414.7 342.8,1406.5 341.6,1384.1 327.5,1392.3" fill="#9E1660" stroke="#9E1660" stroke-width="0.8" stroke-linejoin="round"/><polygon points="307.3,1409.6 328.7,1414.7 327.5,1392.3 306.1,1387.2" fill="#EC288C" stroke="#EC288C" stroke-width="0.8" stroke-linejoin="round"/><polygon points="306.1,1387.2 327.5,1392.3 341.6,1384.1 320.2,1379.1" fill="#C5227A" stroke="#C5227A" stroke-width="0.8" stroke-linejoin="round"/>
<polygon points="368.7,1424.3 382.6,1416.0 381.8,1399.2 367.8,1407.5" fill="#9E1660" stroke="#9E1660" stroke-width="0.8" stroke-linejoin="round"/><polygon points="347.0,1419.1 368.7,1424.3 367.8,1407.5 346.2,1402.3" fill="#EC288C" stroke="#EC288C" stroke-width="0.8" stroke-linejoin="round"/><polygon points="346.2,1402.3 367.8,1407.5 381.8,1399.2 360.2,1394.1" fill="#C5227A" stroke="#C5227A" stroke-width="0.8" stroke-linejoin="round"/>
<polygon points="409.0,1434.0 422.9,1425.6 421.9,1404.9 407.9,1413.2" fill="#9E1660" stroke="#9E1660" stroke-width="0.8" stroke-linejoin="round"/><polygon points="387.1,1428.8 409.0,1434.0 407.9,1413.2 386.1,1408.0" fill="#EC288C" stroke="#EC288C" stroke-width="0.8" stroke-linejoin="round"/><polygon points="386.1,1408.0 407.9,1413.2 421.9,1404.9 400.1,1399.7" fill="#C5227A" stroke="#C5227A" stroke-width="0.8" stroke-linejoin="round"/>
<polygon points="449.7,1443.8 463.5,1435.3 447.3,1078.2 433.1,1085.5" fill="#9E1660" stroke="#9E1660" stroke-width="0.8" stroke-linejoin="round"/><polygon points="427.6,1438.5 449.7,1443.8 433.1,1085.5 410.7,1081.0" fill="#EC288C" stroke="#EC288C" stroke-width="0.8" stroke-linejoin="round"/><polygon points="410.7,1081.0 433.1,1085.5 447.3,1078.2 424.9,1073.8" fill="#C5227A" stroke="#C5227A" stroke-width="0.8" stroke-linejoin="round"/>
<polygon points="490.7,1453.7 504.5,1445.1 503.2,1415.1 489.4,1423.6" fill="#9E1660" stroke="#9E1660" stroke-width="0.8" stroke-linejoin="round"/><polygon points="468.5,1448.3 490.7,1453.7 489.4,1423.6 467.2,1418.3" fill="#EC288C" stroke="#EC288C" stroke-width="0.8" stroke-linejoin="round"/><polygon points="467.2,1418.3 489.4,1423.6 503.2,1415.1 481.0,1409.9" fill="#C5227A" stroke="#C5227A" stroke-width="0.8" stroke-linejoin="round"/>
<polygon points="532.2,1463.7 545.8,1455.0 545.0,1435.0 531.4,1443.6" fill="#9E1660" stroke="#9E1660" stroke-width="0.8" stroke-linejoin="round"/><polygon points="509.8,1458.3 532.2,1463.7 531.4,1443.6 508.9,1438.2" fill="#EC288C" stroke="#EC288C" stroke-width="0.8" stroke-linejoin="round"/><polygon points="508.9,1438.2 531.4,1443.6 545.0,1435.0 522.6,1429.7" fill="#C5227A" stroke="#C5227A" stroke-width="0.8" stroke-linejoin="round"/>
<polygon points="574.1,1473.7 587.6,1465.0 585.6,1411.4 572.0,1419.9" fill="#9E1660" stroke="#9E1660" stroke-width="0.8" stroke-linejoin="round"/><polygon points="551.4,1468.3 574.1,1473.7 572.0,1419.9 549.3,1414.6" fill="#EC288C" stroke="#EC288C" stroke-width="0.8" stroke-linejoin="round"/><polygon points="549.3,1414.6 572.0,1419.9 585.6,1411.4 562.9,1406.1" fill="#C5227A" stroke="#C5227A" stroke-width="0.8" stroke-linejoin="round"/>
<polygon points="616.4,1483.9 629.8,1475.1 627.9,1420.8 614.4,1429.4" fill="#9E1660" stroke="#9E1660" stroke-width="0.8" stroke-linejoin="round"/><polygon points="593.5,1478.4 616.4,1483.9 614.4,1429.4 591.5,1424.0" fill="#EC288C" stroke="#EC288C" stroke-width="0.8" stroke-linejoin="round"/><polygon points="591.5,1424.0 614.4,1429.4 627.9,1420.8 605.0,1415.4" fill="#C5227A" stroke="#C5227A" stroke-width="0.8" stroke-linejoin="round"/>
<polygon points="659.1,1494.2 672.4,1485.3 671.8,1465.1 658.4,1473.9" fill="#9E1660" stroke="#9E1660" stroke-width="0.8" stroke-linejoin="round"/><polygon points="636.0,1488.6 659.1,1494.2 658.4,1473.9 635.3,1468.4" fill="#EC288C" stroke="#EC288C" stroke-width="0.8" stroke-linejoin="round"/><polygon points="635.3,1468.4 658.4,1473.9 671.8,1465.1 648.7,1459.6" fill="#C5227A" stroke="#C5227A" stroke-width="0.8" stroke-linejoin="round"/>
<polygon points="702.2,1504.5 715.5,1495.6 714.8,1474.3 701.6,1483.2" fill="#9E1660" stroke="#9E1660" stroke-width="0.8" stroke-linejoin="round"/><polygon points="678.9,1498.9 702.2,1504.5 701.6,1483.2 678.2,1477.6" fill="#EC288C" stroke="#EC288C" stroke-width="0.8" stroke-linejoin="round"/><polygon points="678.2,1477.6 701.6,1483.2 714.8,1474.3 691.5,1468.8" fill="#C5227A" stroke="#C5227A" stroke-width="0.8" stroke-linejoin="round"/>
<polygon points="745.8,1515.0 758.9,1505.9 757.6,1457.1 744.4,1466.0" fill="#9E1660" stroke="#9E1660" stroke-width="0.8" stroke-linejoin="round"/><polygon points="722.2,1509.3 745.8,1515.0 744.4,1466.0 720.8,1460.4" fill="#EC288C" stroke="#EC288C" stroke-width="0.8" stroke-linejoin="round"/><polygon points="720.8,1460.4 744.4,1466.0 757.6,1457.1 734.0,1451.6" fill="#C5227A" stroke="#C5227A" stroke-width="0.8" stroke-linejoin="round"/>
<polygon points="789.8,1525.6 802.8,1516.4 797.8,1313.2 784.6,1321.6" fill="#9E1660" stroke="#9E1660" stroke-width="0.8" stroke-linejoin="round"/><polygon points="766.0,1519.8 789.8,1525.6 784.6,1321.6 760.5,1316.4" fill="#EC288C" stroke="#EC288C" stroke-width="0.8" stroke-linejoin="round"/><polygon points="760.5,1316.4 784.6,1321.6 797.8,1313.2 773.7,1308.0" fill="#C5227A" stroke="#C5227A" stroke-width="0.8" stroke-linejoin="round"/>
<polygon points="834.2,1536.3 847.1,1527.0 842.7,1328.1 829.7,1336.6" fill="#9E1660" stroke="#9E1660" stroke-width="0.8" stroke-linejoin="round"/><polygon points="810.2,1530.5 834.2,1536.3 829.7,1336.6 805.3,1331.3" fill="#EC288C" stroke="#EC288C" stroke-width="0.8" stroke-linejoin="round"/><polygon points="805.3,1331.3 829.7,1336.6 842.7,1328.1 818.5,1322.8" fill="#C5227A" stroke="#C5227A" stroke-width="0.8" stroke-linejoin="round"/>
<polygon points="879.1,1547.0 891.9,1537.7 887.0,1287.8 874.1,1296.2" fill="#9E1660" stroke="#9E1660" stroke-width="0.8" stroke-linejoin="round"/><polygon points="854.8,1541.2 879.1,1547.0 874.1,1296.2 849.4,1291.0" fill="#EC288C" stroke="#EC288C" stroke-width="0.8" stroke-linejoin="round"/><polygon points="849.4,1291.0 874.1,1296.2 887.0,1287.8 862.5,1282.6" fill="#C5227A" stroke="#C5227A" stroke-width="0.8" stroke-linejoin="round"/>
<polygon points="924.5,1557.9 937.1,1548.5 932.3,1260.2 919.4,1268.6" fill="#9E1660" stroke="#9E1660" stroke-width="0.8" stroke-linejoin="round"/><polygon points="899.9,1552.0 924.5,1557.9 919.4,1268.6 894.5,1263.4" fill="#EC288C" stroke="#EC288C" stroke-width="0.8" stroke-linejoin="round"/><polygon points="894.5,1263.4 919.4,1268.6 932.3,1260.2 907.4,1255.1" fill="#C5227A" stroke="#C5227A" stroke-width="0.8" stroke-linejoin="round"/>
<polygon points="970.2,1568.9 982.8,1559.4 982.5,1537.1 969.9,1546.5" fill="#9E1660" stroke="#9E1660" stroke-width="0.8" stroke-linejoin="round"/><polygon points="945.5,1563.0 970.2,1568.9 969.9,1546.5 945.1,1540.6" fill="#EC288C" stroke="#EC288C" stroke-width="0.8" stroke-linejoin="round"/><polygon points="945.1,1540.6 969.9,1546.5 982.5,1537.1 957.7,1531.2" fill="#C5227A" stroke="#C5227A" stroke-width="0.8" stroke-linejoin="round"/>
<polygon points="1016.5,1580.1 1028.9,1570.5 1028.7,1548.3 1016.3,1557.8" fill="#9E1660" stroke="#9E1660" stroke-width="0.8" stroke-linejoin="round"/><polygon points="991.5,1574.0 1016.5,1580.1 1016.3,1557.8 991.2,1551.8" fill="#EC288C" stroke="#EC288C" stroke-width="0.8" stroke-linejoin="round"/><polygon points="991.2,1551.8 1016.3,1557.8 1028.7,1548.3 1003.7,1542.3" fill="#C5227A" stroke="#C5227A" stroke-width="0.8" stroke-linejoin="round"/>
<polygon points="1063.3,1591.3 1075.5,1581.6 1073.7,1355.1 1061.2,1363.9" fill="#9E1660" stroke="#9E1660" stroke-width="0.8" stroke-linejoin="round"/><polygon points="1038.0,1585.2 1063.3,1591.3 1061.2,1363.9 1035.6,1358.4" fill="#EC288C" stroke="#EC288C" stroke-width="0.8" stroke-linejoin="round"/><polygon points="1035.6,1358.4 1061.2,1363.9 1073.7,1355.1 1048.1,1349.6" fill="#C5227A" stroke="#C5227A" stroke-width="0.8" stroke-linejoin="round"/>
<polygon points="1110.5,1602.7 1122.6,1592.9 1122.5,1571.3 1110.3,1581.0" fill="#9E1660" stroke="#9E1660" stroke-width="0.8" stroke-linejoin="round"/><polygon points="1084.9,1596.5 1110.5,1602.7 1110.3,1581.0 1084.8,1574.9" fill="#EC288C" stroke="#EC288C" stroke-width="0.8" stroke-linejoin="round"/><polygon points="1084.8,1574.9 1110.3,1581.0 1122.5,1571.3 1097.0,1565.2" fill="#C5227A" stroke="#C5227A" stroke-width="0.8" stroke-linejoin="round"/>
<polygon points="1158.2,1614.1 1170.2,1604.2 1169.7,1407.9 1157.6,1417.0" fill="#9E1660" stroke="#9E1660" stroke-width="0.8" stroke-linejoin="round"/><polygon points="1132.4,1607.9 1158.2,1614.1 1157.6,1417.0 1131.5,1411.3" fill="#EC288C" stroke="#EC288C" stroke-width="0.8" stroke-linejoin="round"/><polygon points="1131.5,1411.3 1157.6,1417.0 1169.7,1407.9 1143.7,1402.2" fill="#C5227A" stroke="#C5227A" stroke-width="0.8" stroke-linejoin="round"/>
<polygon points="1206.4,1625.7 1218.2,1615.7 1218.3,1564.3 1206.4,1574.1" fill="#9E1660" stroke="#9E1660" stroke-width="0.8" stroke-linejoin="round"/><polygon points="1180.3,1619.4 1206.4,1625.7 1206.4,1574.1 1180.2,1568.0" fill="#EC288C" stroke="#EC288C" stroke-width="0.8" stroke-linejoin="round"/><polygon points="1180.2,1568.0 1206.4,1574.1 1218.3,1564.3 1192.2,1558.3" fill="#C5227A" stroke="#C5227A" stroke-width="0.8" stroke-linejoin="round"/>
<polygon points="1255.1,1637.4 1266.8,1627.3 1269.3,945.5 1257.1,953.0" fill="#9E1660" stroke="#9E1660" stroke-width="0.8" stroke-linejoin="round"/><polygon points="1228.8,1631.1 1255.1,1637.4 1257.1,953.0 1229.6,948.4" fill="#EC288C" stroke="#EC288C" stroke-width="0.8" stroke-linejoin="round"/><polygon points="1229.6,948.4 1257.1,953.0 1269.3,945.5 1241.9,941.0" fill="#C5227A" stroke="#C5227A" stroke-width="0.8" stroke-linejoin="round"/>
<polygon points="1304.4,1649.3 1315.9,1639.1 1317.4,1407.8 1305.7,1417.1" fill="#9E1660" stroke="#9E1660" stroke-width="0.8" stroke-linejoin="round"/><polygon points="1277.7,1642.9 1304.4,1649.3 1305.7,1417.1 1278.7,1411.3" fill="#EC288C" stroke="#EC288C" stroke-width="0.8" stroke-linejoin="round"/><polygon points="1278.7,1411.3 1305.7,1417.1 1317.4,1407.8 1290.5,1402.0" fill="#C5227A" stroke="#C5227A" stroke-width="0.8" stroke-linejoin="round"/>
<polygon points="1354.1,1661.2 1365.5,1650.9 1367.8,1418.5 1356.2,1427.9" fill="#9E1660" stroke="#9E1660" stroke-width="0.8" stroke-linejoin="round"/><polygon points="1327.2,1654.7 1354.1,1661.2 1356.2,1427.9 1328.9,1422.0" fill="#EC288C" stroke="#EC288C" stroke-width="0.8" stroke-linejoin="round"/><polygon points="1328.9,1422.0 1356.2,1427.9 1367.8,1418.5 1340.5,1412.6" fill="#C5227A" stroke="#C5227A" stroke-width="0.8" stroke-linejoin="round"/></g>
<g><line x1="188.0" y1="1438.4" x2="111.1" y2="197.5" stroke="#000" stroke-width="4.4" stroke-linecap="square"/><line x1="188.0" y1="1438.4" x2="1308.8" y2="1715.6" stroke="#000" stroke-width="4.4" stroke-linecap="square"/><line x1="188.0" y1="1438.4" x2="172.4" y2="1447.3" stroke="#000" stroke-width="3.4"/><line x1="182.1" y1="1343.2" x2="166.3" y2="1351.8" stroke="#000" stroke-width="3.4"/><line x1="176.1" y1="1246.9" x2="160.2" y2="1255.2" stroke="#000" stroke-width="3.4"/><line x1="170.1" y1="1149.5" x2="154.0" y2="1157.4" stroke="#000" stroke-width="3.4"/><line x1="164.0" y1="1050.9" x2="147.7" y2="1058.5" stroke="#000" stroke-width="3.4"/><line x1="157.8" y1="951.2" x2="141.3" y2="958.4" stroke="#000" stroke-width="3.4"/><line x1="143.7" y1="723.0" x2="126.8" y2="729.3" stroke="#000" stroke-width="3.4"/><line x1="135.7" y1="594.5" x2="118.7" y2="600.4" stroke="#000" stroke-width="3.4"/><line x1="127.6" y1="464.2" x2="110.4" y2="469.5" stroke="#000" stroke-width="3.4"/><line x1="119.4" y1="331.8" x2="102.1" y2="336.6" stroke="#000" stroke-width="3.4"/><line x1="111.1" y1="197.5" x2="93.6" y2="201.7" stroke="#000" stroke-width="3.4"/><line x1="185.1" y1="1390.9" x2="176.3" y2="1395.8" stroke="#000" stroke-width="3.0"/><line x1="179.1" y1="1295.2" x2="170.3" y2="1299.9" stroke="#000" stroke-width="3.0"/><line x1="173.1" y1="1198.4" x2="164.2" y2="1202.9" stroke="#000" stroke-width="3.0"/><line x1="167.1" y1="1100.4" x2="158.0" y2="1104.7" stroke="#000" stroke-width="3.0"/><line x1="160.9" y1="1001.2" x2="151.8" y2="1005.3" stroke="#000" stroke-width="3.0"/><line x1="154.7" y1="900.9" x2="145.5" y2="904.8" stroke="#000" stroke-width="3.0"/><line x1="147.6" y1="786.4" x2="138.3" y2="790.1" stroke="#000" stroke-width="3.0"/><line x1="139.7" y1="659.0" x2="130.3" y2="662.4" stroke="#000" stroke-width="3.0"/><line x1="131.7" y1="529.6" x2="122.2" y2="532.7" stroke="#000" stroke-width="3.0"/><line x1="123.5" y1="398.3" x2="114.0" y2="401.1" stroke="#000" stroke-width="3.0"/><line x1="115.3" y1="264.9" x2="105.6" y2="267.4" stroke="#000" stroke-width="3.0"/><line x1="203.8" y1="1442.3" x2="196.9" y2="1446.3" stroke="#000" stroke-width="3.0"/><line x1="243.6" y1="1452.2" x2="230.6" y2="1459.7" stroke="#000" stroke-width="3.4"/><line x1="283.7" y1="1462.1" x2="276.9" y2="1466.2" stroke="#000" stroke-width="3.0"/><line x1="324.3" y1="1472.1" x2="311.4" y2="1479.8" stroke="#000" stroke-width="3.4"/><line x1="365.2" y1="1482.2" x2="358.4" y2="1486.4" stroke="#000" stroke-width="3.0"/><line x1="406.6" y1="1492.5" x2="393.8" y2="1500.4" stroke="#000" stroke-width="3.4"/><line x1="448.3" y1="1502.8" x2="441.6" y2="1507.1" stroke="#000" stroke-width="3.0"/><line x1="490.5" y1="1513.2" x2="477.9" y2="1521.3" stroke="#000" stroke-width="3.4"/><line x1="533.1" y1="1523.8" x2="526.4" y2="1528.1" stroke="#000" stroke-width="3.0"/><line x1="576.1" y1="1534.4" x2="563.6" y2="1542.7" stroke="#000" stroke-width="3.4"/><line x1="619.6" y1="1545.1" x2="612.9" y2="1549.6" stroke="#000" stroke-width="3.0"/><line x1="663.4" y1="1556.0" x2="651.1" y2="1564.5" stroke="#000" stroke-width="3.4"/><line x1="707.8" y1="1567.0" x2="701.2" y2="1571.5" stroke="#000" stroke-width="3.0"/><line x1="752.5" y1="1578.0" x2="740.3" y2="1586.7" stroke="#000" stroke-width="3.4"/><line x1="797.8" y1="1589.2" x2="791.3" y2="1593.9" stroke="#000" stroke-width="3.0"/><line x1="843.5" y1="1600.5" x2="831.4" y2="1609.4" stroke="#000" stroke-width="3.4"/><line x1="889.7" y1="1611.9" x2="883.3" y2="1616.8" stroke="#000" stroke-width="3.0"/><line x1="936.3" y1="1623.5" x2="924.4" y2="1632.6" stroke="#000" stroke-width="3.4"/><line x1="983.5" y1="1635.1" x2="977.2" y2="1640.1" stroke="#000" stroke-width="3.0"/><line x1="1031.1" y1="1646.9" x2="1019.4" y2="1656.3" stroke="#000" stroke-width="3.4"/><line x1="1079.2" y1="1658.8" x2="1073.0" y2="1663.9" stroke="#000" stroke-width="3.0"/><line x1="1127.9" y1="1670.9" x2="1116.4" y2="1680.5" stroke="#000" stroke-width="3.4"/><line x1="1177.1" y1="1683.0" x2="1171.0" y2="1688.2" stroke="#000" stroke-width="3.0"/><line x1="1226.8" y1="1695.3" x2="1215.5" y2="1705.2" stroke="#000" stroke-width="3.4"/><line x1="1277.0" y1="1707.7" x2="1271.0" y2="1713.1" stroke="#000" stroke-width="3.0"/><line x1="145.5" y1="860.5" x2="157.5" y2="836.5" stroke="#000" stroke-width="3.4"/><line x1="144.3" y1="842.0" x2="156.3" y2="818.0" stroke="#000" stroke-width="3.4"/></g>
<g><text transform="matrix(0.61404,-0.34984,0.05978,0.94009,162.3,1453.0)" x="0" y="14" font-family='"Liberation Serif","Times New Roman",serif' font-size="50" fill="#111" text-anchor="end" >0.0</text><text transform="matrix(0.61859,-0.33652,0.06048,0.95107,156.2,1357.3)" x="0" y="14" font-family='"Liberation Serif","Times New Roman",serif' font-size="50" fill="#111" text-anchor="end" >0.5</text><text transform="matrix(0.62321,-0.32287,0.06119,0.96225,150.1,1260.4)" x="0" y="14" font-family='"Liberation Serif","Times New Roman",serif' font-size="50" fill="#111" text-anchor="end" >1.0</text><text transform="matrix(0.62789,-0.30887,0.06191,0.97363,143.8,1162.4)" x="0" y="14" font-family='"Liberation Serif","Times New Roman",serif' font-size="50" fill="#111" text-anchor="end" >1.5</text><text transform="matrix(0.63264,-0.29452,0.06265,0.98521,137.5,1063.2)" x="0" y="14" font-family='"Liberation Serif","Times New Roman",serif' font-size="50" fill="#111" text-anchor="end" >2.0</text><text transform="matrix(0.63746,-0.27980,0.06340,0.99699,131.2,962.9)" x="0" y="14" font-family='"Liberation Serif","Times New Roman",serif' font-size="50" fill="#111" text-anchor="end" >2.5</text><text transform="matrix(0.64854,-0.24538,0.06513,1.02423,116.6,733.2)" x="0" y="14" font-family='"Liberation Serif","Times New Roman",serif' font-size="50" fill="#111" text-anchor="end" >20</text><text transform="matrix(0.65480,-0.22556,0.06611,1.03972,108.3,604.0)" x="0" y="14" font-family='"Liberation Serif","Times New Roman",serif' font-size="50" fill="#111" text-anchor="end" >40</text><text transform="matrix(0.66118,-0.20511,0.06712,1.05556,100.0,472.8)" x="0" y="14" font-family='"Liberation Serif","Times New Roman",serif' font-size="50" fill="#111" text-anchor="end" >60</text><text transform="matrix(0.66768,-0.18400,0.06815,1.07177,91.5,339.5)" x="0" y="14" font-family='"Liberation Serif","Times New Roman",serif' font-size="50" fill="#111" text-anchor="end" >80</text><text transform="matrix(0.67430,-0.16222,0.06921,1.08835,82.9,204.3)" x="0" y="14" font-family='"Liberation Serif","Times New Roman",serif' font-size="50" fill="#111" text-anchor="end" >100</text><text transform="matrix(0.60224,-0.35037,0.78349,0.19602,214.9,1468.8)" x="0" y="16.5" font-family='"Liberation Serif","Times New Roman",serif' font-size="50" fill="#111" text-anchor="end" >2</text><text transform="matrix(0.59515,-0.35704,0.79888,0.19987,295.9,1489.1)" x="0" y="16.5" font-family='"Liberation Serif","Times New Roman",serif' font-size="50" fill="#111" text-anchor="end" >4</text><text transform="matrix(0.58766,-0.36390,0.81472,0.20384,378.6,1509.8)" x="0" y="16.5" font-family='"Liberation Serif","Times New Roman",serif' font-size="50" fill="#111" text-anchor="end" >6</text><text transform="matrix(0.57975,-0.37097,0.83103,0.20792,462.9,1530.9)" x="0" y="16.5" font-family='"Liberation Serif","Times New Roman",serif' font-size="50" fill="#111" text-anchor="end" >8</text><text transform="matrix(0.57141,-0.37825,0.84785,0.21212,548.9,1552.4)" x="0" y="16.5" font-family='"Liberation Serif","Times New Roman",serif' font-size="50" fill="#111" text-anchor="end" >10</text><text transform="matrix(0.56260,-0.38575,0.86517,0.21646,636.6,1574.4)" x="0" y="16.5" font-family='"Liberation Serif","Times New Roman",serif' font-size="50" fill="#111" text-anchor="end" >12</text><text transform="matrix(0.55331,-0.39349,0.88304,0.22093,726.2,1596.8)" x="0" y="16.5" font-family='"Liberation Serif","Times New Roman",serif' font-size="50" fill="#111" text-anchor="end" >14</text><text transform="matrix(0.54351,-0.40146,0.90146,0.22554,817.6,1619.6)" x="0" y="16.5" font-family='"Liberation Serif","Times New Roman",serif' font-size="50" fill="#111" text-anchor="end" >16</text><text transform="matrix(0.53317,-0.40968,0.92046,0.23029,910.9,1643.0)" x="0" y="16.5" font-family='"Liberation Serif","Times New Roman",serif' font-size="50" fill="#111" text-anchor="end" >18</text><text transform="matrix(0.52227,-0.41816,0.94007,0.23520,1006.2,1666.8)" x="0" y="16.5" font-family='"Liberation Serif","Times New Roman",serif' font-size="50" fill="#111" text-anchor="end" >20</text><text transform="matrix(0.51078,-0.42691,0.96032,0.24026,1103.6,1691.2)" x="0" y="16.5" font-family='"Liberation Serif","Times New Roman",serif' font-size="50" fill="#111" text-anchor="end" >22</text><text transform="matrix(0.49867,-0.43595,0.98123,0.24549,1203.0,1716.1)" x="0" y="16.5" font-family='"Liberation Serif","Times New Roman",serif' font-size="50" fill="#111" text-anchor="end" >24</text><text transform="matrix(1.079,0.3016,-0.90307,0.63824,445,1617)" font-family='"Liberation Serif","Times New Roman",serif' font-size="50" fill="#111">Sample number</text><text transform="translate(1410.8,1661.3) rotate(12.8)" font-family='"Liberation Serif","Times New Roman",serif' font-size="48.2" fill="#E0287E">H<tspan dy="20">2</tspan><tspan dy="-20"> volume(mL/cm</tspan><tspan dy="-22">2</tspan><tspan dy="22" fill="#111">)</tspan></text><text transform="translate(1638.7,1466.6) rotate(13.3)" font-family='"Liberation Serif","Times New Roman",serif' font-size="48" fill="#4C9A57">Intensity (%)</text><text transform="translate(1818.6,1325.3) rotate(14)" font-family='"Liberation Serif","Times New Roman",serif' font-size="48.4" fill="#F3C796">I<tspan dy="18">corr</tspan><tspan dy="-18">(10</tspan><tspan dy="-22">-7</tspan><tspan dy="22">A/cm</tspan><tspan dy="-22">-2</tspan><tspan dy="22">)</tspan></text></g>
</svg></body></html>
